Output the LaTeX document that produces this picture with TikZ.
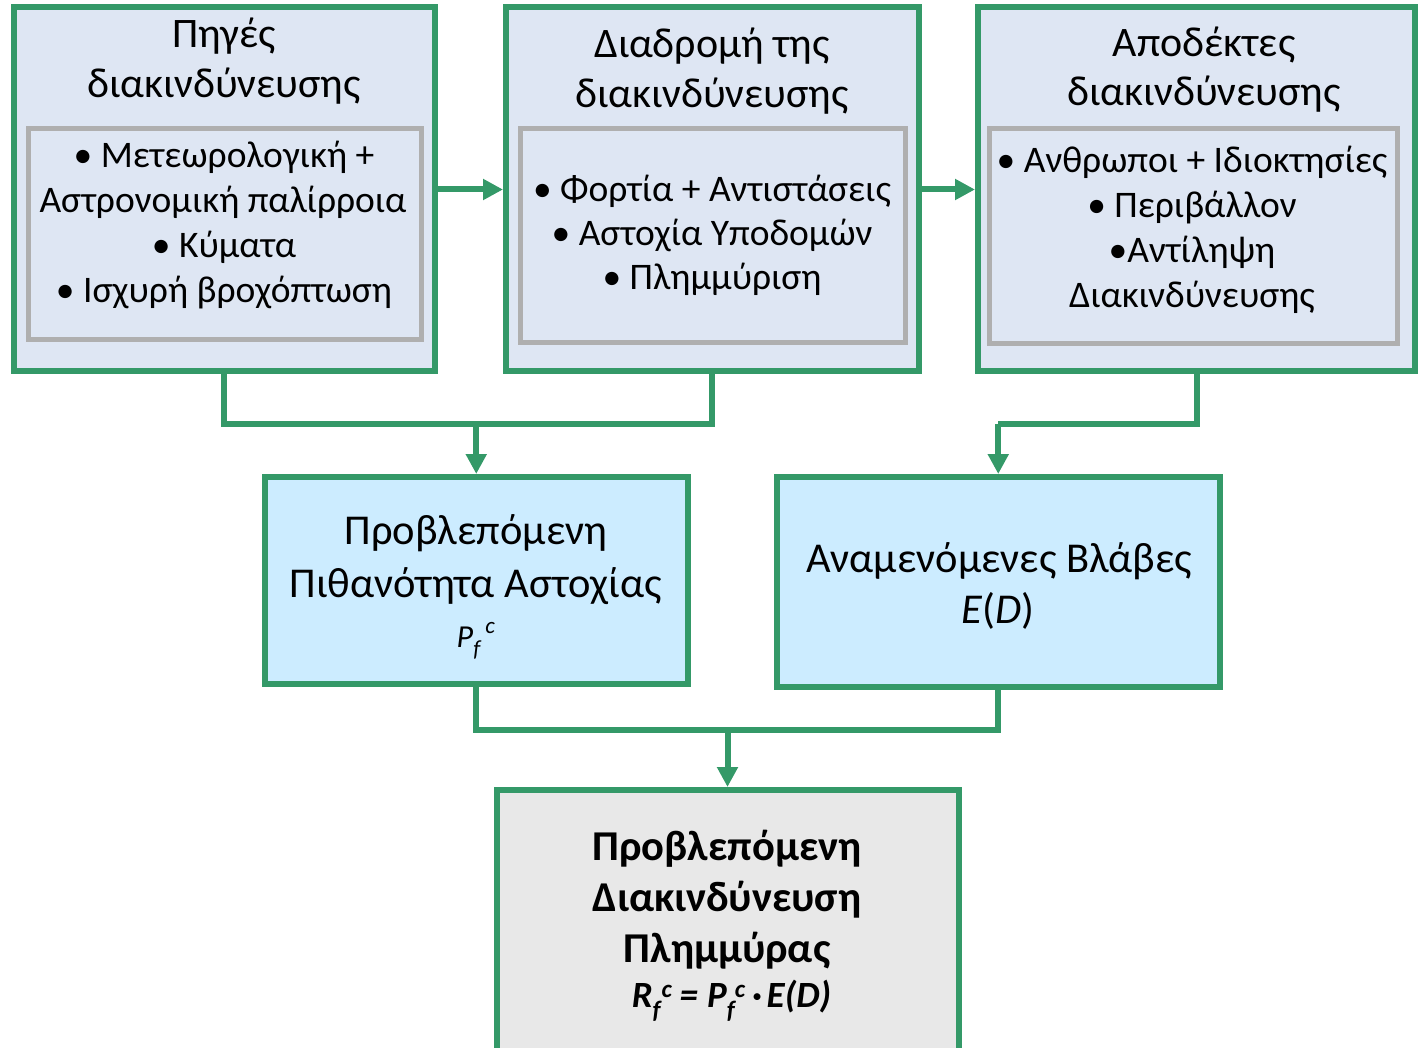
\documentclass[tikz,border=0pt]{standalone}
\usepackage{fontspec}
\setmainfont{Carlito}
\usetikzlibrary{arrows.meta}

\definecolor{frame}{RGB}{52,153,104}
\definecolor{topfill}{RGB}{222,230,243}
\definecolor{midfill}{RGB}{204,236,255}
\definecolor{lowfill}{RGB}{232,232,232}
\definecolor{listline}{RGB}{175,175,175}

% sub/superscript pair
% #1 size, #2 raise of sup, #3 drop of sub, #4 shift of sup, #5 total width, #6 sup, #7 sub
\newcommand\pairsc[7]{%
  \rlap{\raisebox{-#3}{\fontsize{#1}{#1}\selectfont #7}}%
  \rlap{\hspace*{#4}\raisebox{#2}{\fontsize{#1}{#1}\selectfont #6}}%
  \hspace*{#5}}

\begin{document}
\begin{tikzpicture}[x=1pt,y=-1pt,
  stage/.style={draw=frame, line width=6pt, inner sep=0pt, rectangle},
  listbox/.style={draw=listline, line width=5pt, fill=topfill, inner sep=0pt, rectangle},
  link/.style={draw=frame, line width=6pt},
  arr/.style={link, -{Triangle[length=20pt,width=20pt]}},
  head/.style={anchor=base, inner sep=0pt, font=\fontsize{42}{50}\selectfont},
  item/.style={anchor=base, inner sep=0pt, font=\fontsize{37.5}{45}\selectfont},
  mid/.style={anchor=base, inner sep=0pt, font=\fontsize{42.5}{51}\selectfont},
  res/.style={anchor=base, inner sep=0pt, font=\fontsize{42.5}{51}\selectfont\bfseries},
]
\useasboundingbox (0,0) rectangle (1419,1048);

% top row: sources, pathway, receptors
\node[stage, fill=topfill, minimum width=421.5pt, minimum height=364pt] (b1) at (224.25,189.5) {};
\node[stage, fill=topfill, minimum width=412.5pt, minimum height=364pt] (b2) at (712.25,189.5) {};
\node[stage, fill=topfill, minimum width=437pt, minimum height=364pt] (b3) at (1196.5,189.5) {};

\node[listbox, minimum width=393pt, minimum height=211pt] (l1) at (225,234) {};
\node[listbox, minimum width=385pt, minimum height=214pt] (l2) at (713,235.5) {};
\node[listbox, minimum width=407.5pt, minimum height=215pt] (l3) at (1193.25,236) {};

% middle row and result
\node[stage, fill=midfill, minimum width=422.5pt, minimum height=207pt] (b4) at (476.25,580.5) {};
\node[stage, fill=midfill, minimum width=443.5pt, minimum height=209.5pt] (b5) at (998.25,581.75) {};
\node[stage, fill=lowfill, minimum width=462pt, minimum height=268pt] (b6) at (727.5,924) {};

% box 1 text
\node[head] (h11) at (224,48) {Πηγές};
\node[head] (h12) at (224,98) {διακινδύνευσης};
\node[item] (i11) at (224,168) {• Μετεωρολογική +};
\node[item] (i12) at (223,213) {Αστρονομική παλίρροια};
\node[item] (i13) at (224,258) {• Κύματα};
\node[item] (i14) at (224,303) {• Ισχυρή βροχόπτωση};

% box 2 text
\node[head] (h21) at (712,58) {Διαδρομή της};
\node[head] (h22) at (712,108) {διακινδύνευσης};
\node[item] (i21) at (712,202) {• Φορτία + Αντιστάσεις};
\node[item] (i22) at (712,246) {• Αστοχία Υποδομών};
\node[item] (i23) at (712,290) {• Πλημμύριση};

% box 3 text
\node[head] (h31) at (1204,57) {Αποδέκτες};
\node[head] (h32) at (1204,106) {διακινδύνευσης};
\node[item] (i31) at (1192,173) {• Ανθρωποι + Ιδιοκτησίες};
\node[item] (i32) at (1192,218) {• Περιβάλλον};
\node[item] (i33) at (1192,263) {•Αντίληψη};
\node[item] (i34) at (1192,308) {Διακινδύνευσης};

% box 4 text
\node[mid] (t41) at (476,544) {Προβλεπόμενη};
\node[mid] (t42) at (476,597) {Πιθανότητα Αστοχίας};
\node[anchor=base, inner sep=0pt, font=\fontsize{32}{38}\selectfont\itshape] (t43) at (476,647)
  {P\pairsc{23}{14pt}{9pt}{12pt}{22pt}{c}{f}};

% box 5 text
\node[mid] (t51) at (999,572) {Αναμενόμενες Βλάβες};
\node[mid] (t52) at (998,623) {\textit{E}(\textit{D})};

% box 6 text
\node[res] (t61) at (727,860) {Προβλεπόμενη};
\node[res] (t62) at (727,911) {Διακινδύνευση};
\node[res] (t63) at (727,962) {Πλημμύρας};
\node[res, font=\fontsize{37}{44}\selectfont\bfseries\itshape] (t64) at (731.5,1007)
  {R\pairsc{25}{10pt}{11pt}{9pt}{22pt}{c}{f}\kern5pt=\kern9pt P\pairsc{25}{10pt}{11pt}{8pt}{21pt}{c}{f}\kern4pt·\kern5pt E(D)};

% connectors
\draw[arr] (b1.east) -- (b2.west);
\draw[arr] (b2.east) -- (b3.west);

\coordinate (j1) at (b4.north |- 0,424);
\coordinate (j2) at (b5.north |- 0,424);
\coordinate (j3) at (b6.north |- 0,730);

\draw[link] (b1.south) |- (j1) -| (b2.south);
\draw[arr] (j1) -- (b4.north);
\draw[link] (b3.south) |- (j2);
\draw[arr] (j2) -- (b5.north);
\draw[link] (b4.south) |- (j3) -| (b5.south);
\draw[arr] (j3) -- (b6.north);
\end{tikzpicture}
\end{document}
